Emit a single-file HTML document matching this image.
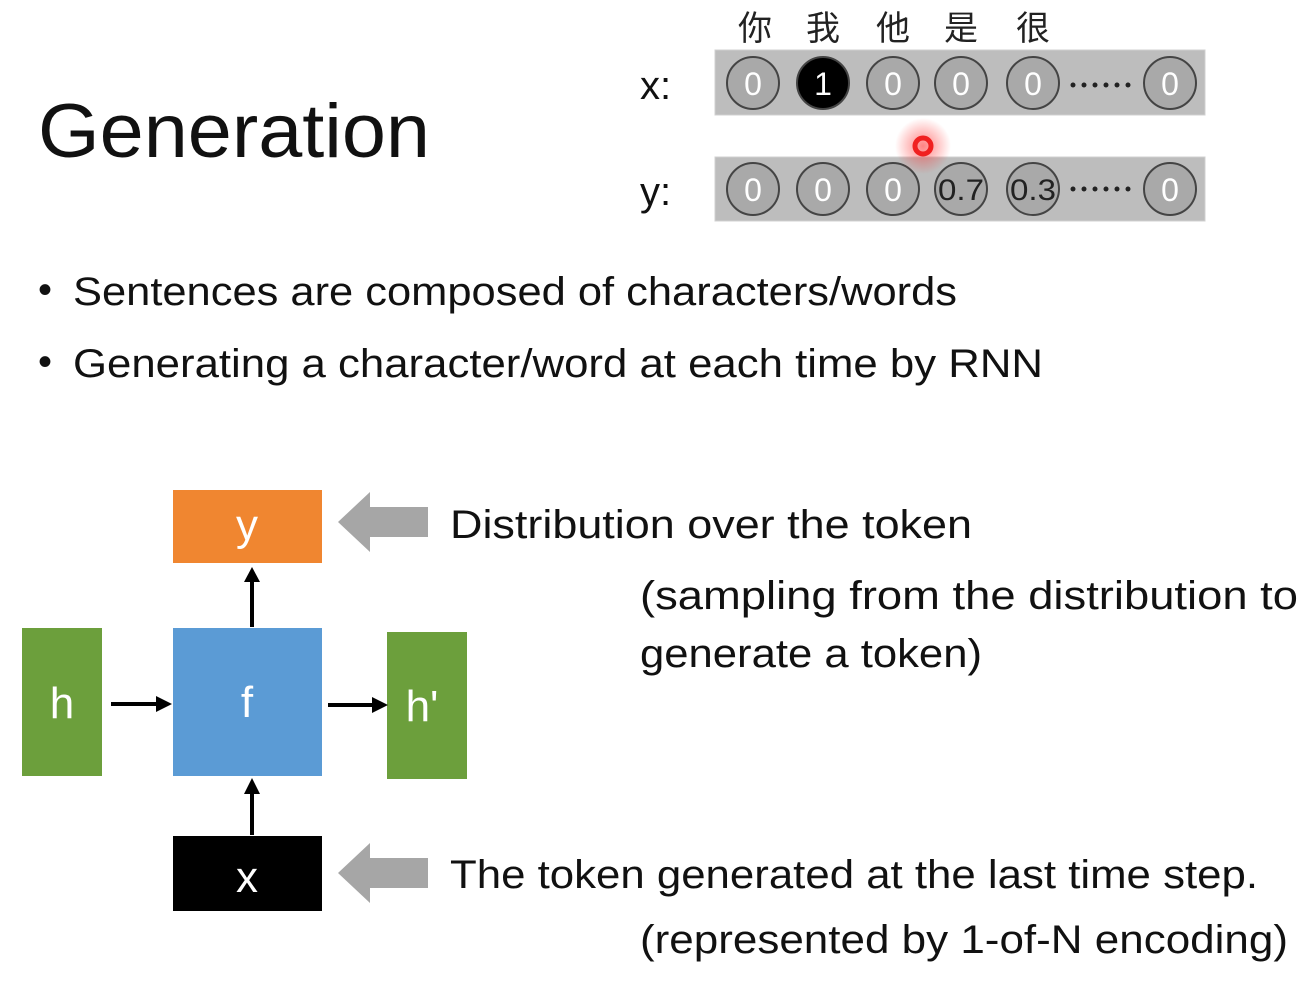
<!DOCTYPE html>
<html><head><meta charset="utf-8"><style>
html,body{margin:0;padding:0;background:#fff;}
svg{display:block;}
text{font-family:"Liberation Sans","Noto Sans CJK SC",sans-serif;}
</style></head><body>
<svg width="1314" height="987" viewBox="0 0 1314 987" xmlns="http://www.w3.org/2000/svg">
<defs>
<radialGradient id="glow"><stop offset="0" stop-color="#ff3030" stop-opacity="0.6"/><stop offset="1" stop-color="#ff3030" stop-opacity="0"/></radialGradient>
</defs>
<rect width="1314" height="987" fill="#fff"/>
<text x="38" y="157" font-size="76" fill="#111" textLength="392" lengthAdjust="spacingAndGlyphs">Generation</text>

<g font-size="34" fill="#222" text-anchor="middle">
<text x="755" y="40">你</text><text x="823" y="40">我</text><text x="893" y="40">他</text><text x="961" y="40">是</text><text x="1033" y="40">很</text>
</g>
<text x="640" y="99" font-size="40" fill="#111">x:</text>
<text x="640" y="205" font-size="40" fill="#111">y:</text>
<rect x="715" y="50" width="490" height="65" fill="#bdbdbd" stroke="#d0d0d0"/>
<rect x="715" y="157" width="490" height="64" fill="#bdbdbd" stroke="#d0d0d0"/>
<g stroke="#444" stroke-width="2" fill="#a9a9a9">
<circle cx="753" cy="83" r="26"/><circle cx="823" cy="83" r="26" fill="#000"/><circle cx="893" cy="83" r="26"/><circle cx="961" cy="83" r="26"/><circle cx="1033" cy="83" r="26"/><circle cx="1170" cy="83" r="26"/>
<circle cx="753" cy="189" r="26"/><circle cx="823" cy="189" r="26"/><circle cx="893" cy="189" r="26"/><circle cx="961" cy="189" r="26"/><circle cx="1033" cy="189" r="26"/><circle cx="1170" cy="189" r="26"/>
</g>
<g font-size="32" fill="#fff" text-anchor="middle">
<text x="753" y="95">0</text><text x="823" y="95">1</text><text x="893" y="95">0</text><text x="961" y="95">0</text><text x="1033" y="95">0</text><text x="1170" y="95">0</text>
<text x="753" y="201">0</text><text x="823" y="201">0</text><text x="893" y="201">0</text><text x="1170" y="201">0</text>
</g>
<g font-size="30" fill="#222" text-anchor="middle">
<text x="961" y="200" textLength="46" lengthAdjust="spacingAndGlyphs">0.7</text><text x="1033" y="200" textLength="46" lengthAdjust="spacingAndGlyphs">0.3</text>
</g>
<g fill="#222">
<circle cx="1073" cy="85" r="2.5"/><circle cx="1084" cy="85" r="2.5"/><circle cx="1095" cy="85" r="2.5"/><circle cx="1106" cy="85" r="2.5"/><circle cx="1117" cy="85" r="2.5"/><circle cx="1128" cy="85" r="2.5"/>
<circle cx="1073" cy="189" r="2.5"/><circle cx="1084" cy="189" r="2.5"/><circle cx="1095" cy="189" r="2.5"/><circle cx="1106" cy="189" r="2.5"/><circle cx="1117" cy="189" r="2.5"/><circle cx="1128" cy="189" r="2.5"/>
</g>
<circle cx="923" cy="146" r="28" fill="url(#glow)"/>
<circle cx="923" cy="146" r="8" fill="none" stroke="#f02020" stroke-width="5"/>

<g font-size="40" fill="#111">
<text x="38" y="303">•</text>
<text x="73" y="305" textLength="884" lengthAdjust="spacingAndGlyphs">Sentences are composed of characters/words</text>
<text x="38" y="375">•</text>
<text x="73" y="377" textLength="970" lengthAdjust="spacingAndGlyphs">Generating a character/word at each time by RNN</text>
</g>

<rect x="173" y="490" width="149" height="73" fill="#f08630"/>
<rect x="173" y="628" width="149" height="148" fill="#5b9bd5"/>
<rect x="22" y="628" width="80" height="148" fill="#6c9f3c"/>
<rect x="387" y="632" width="80" height="147" fill="#6c9f3c"/>
<rect x="173" y="836" width="149" height="75" fill="#000"/>
<g font-size="44" fill="#fff" text-anchor="middle">
<text x="247" y="540">y</text>
<text x="247" y="717">f</text>
<text x="62" y="718">h</text>
<text x="422" y="721">h'</text>
<text x="247" y="892">x</text>
</g>
<g stroke="#000" stroke-width="4">
<line x1="252" y1="627" x2="252" y2="580"/>
<line x1="252" y1="835" x2="252" y2="792"/>
<line x1="111" y1="704" x2="158" y2="704"/>
<line x1="328" y1="705" x2="374" y2="705"/>
</g>
<g fill="#000">
<path d="M252,567 L244,582 L260,582 Z"/>
<path d="M252,778 L244,794 L260,794 Z"/>
<path d="M172,704 L156,696 L156,712 Z"/>
<path d="M388,705 L372,697 L372,713 Z"/>
</g>
<g fill="#a6a6a6">
<path d="M338,522 L370,492 L370,507 L428,507 L428,537 L370,537 L370,552 Z"/>
<path d="M338,873 L370,843 L370,858 L428,858 L428,888 L370,888 L370,903 Z"/>
</g>
<g font-size="40" fill="#111">
<text x="450" y="538" textLength="522" lengthAdjust="spacingAndGlyphs">Distribution over the token</text>
<text x="640" y="609" textLength="658" lengthAdjust="spacingAndGlyphs">(sampling from the distribution to</text>
<text x="640" y="667" textLength="342" lengthAdjust="spacingAndGlyphs">generate a token)</text>
<text x="450" y="888" textLength="808" lengthAdjust="spacingAndGlyphs">The token generated at the last time step.</text>
<text x="640" y="953" textLength="648" lengthAdjust="spacingAndGlyphs">(represented by 1-of-N encoding)</text>
</g>
</svg>
</body></html>
